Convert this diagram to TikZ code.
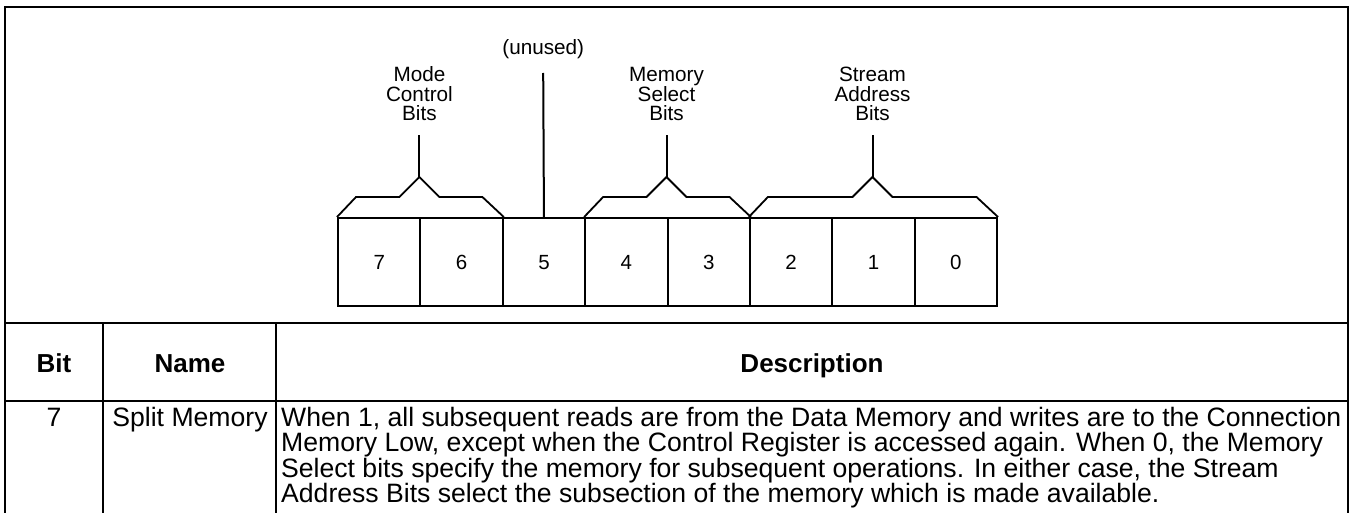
\documentclass[tikz,border=0pt]{standalone}
\usepackage{fontspec}
\setmainfont{Liberation Sans}
\begin{document}
\begin{tikzpicture}[x=1pt,y=-1pt,
  frame/.style={line width=2.2pt},
  rule/.style={line width=2pt},
  cell/.style={draw,line width=2pt,minimum width=82.4pt,minimum height=88pt,inner sep=0pt,anchor=north west,text height=14.7pt,text depth=0pt,font=\fontsize{20.5}{20}\selectfont},
  lbl/.style={align=center,inner sep=0pt,font=\fontsize{20.7}{19.5}\selectfont},
  brace/.style={line width=1.8pt,line join=miter},
  hdr/.style={inner sep=0pt,anchor=base,font=\fontsize{26}{26}\selectfont\bfseries},
  txt/.style={inner sep=0pt,font=\fontsize{26.6}{25.3}\selectfont}]
\useasboundingbox (0,0) rectangle (1351,513);
% outer frame
\draw[frame] (5,513) -- (5,7) -- (1348,7) -- (1348,513);
% table rules
\draw[rule] (5,323) -- (1348,323);
\draw[rule] (5,401) -- (1348,401);
\draw[rule] (103,323) -- (103,513);
\draw[rule] (276,323) -- (276,513);
% register cells
\foreach \b [count=\i from 0] in {7,6,5,4,3,2,1,0}{
  \node[cell] (c\b) at ({337+82.375*\i},217) {\b};
}
% braces
\coordinate (m) at (419.4,177);
\coordinate (s) at (666.5,177);
\coordinate (a) at (872.5,177);
\draw[brace] (c7.north west) -- ++(19,-20) -- (399.4,197) -- (m) -- (439.4,197) -- (482.4,197) -- (c6.north east);
\draw[brace] (c4.north west) -- ++(19,-20) -- (646.5,197) -- (s) -- (686.5,197) -- (729.5,197) -- (c3.north east);
\draw[brace] (c2.north west) -- ++(19,-20) -- (852.5,197) -- (a) -- (892.5,197) -- (976.5,197) -- (c0.north east);
% labels
\node[lbl] (lm) at (419.4,94) {Mode\\Control\\Bits};
\node[lbl] (ls) at (666.5,94) {Memory\\Select\\Bits};
\node[lbl] (la) at (872.5,94) {Stream\\Address\\Bits};
\node[lbl] (lu) at (543.2,49) {(unused)};
\coordinate (us) at (543.2,73);
\draw[rule] (m) -- ++(0,-42);
\draw[rule] (s) -- ++(0,-42);
\draw[rule] (a) -- ++(0,-42);
\draw[rule] (us) -- (c5.north);
% table text
\node[hdr] (hb) at (54,372) {Bit};
\node[hdr] (hn) at (190,372) {Name};
\node[hdr] (hd) at (812,372) {Description};
\node[txt,anchor=base] (r7) at (54,426.4) {7};
\node[txt,anchor=base] (rn) at (190,426.4) {Split Memory};
\node[txt,align=left,anchor=north west] (rd) at (281,407) {When 1, all subsequent reads are from the Data Memory and writes are to the Connection\\Memory Low, except when the Control Register is accessed again. When 0, the Memory\\Select bits specify the memory for subsequent operations. In either case, the Stream\\Address Bits select the subsection of the memory which is made available.};
\end{tikzpicture}
\end{document}
